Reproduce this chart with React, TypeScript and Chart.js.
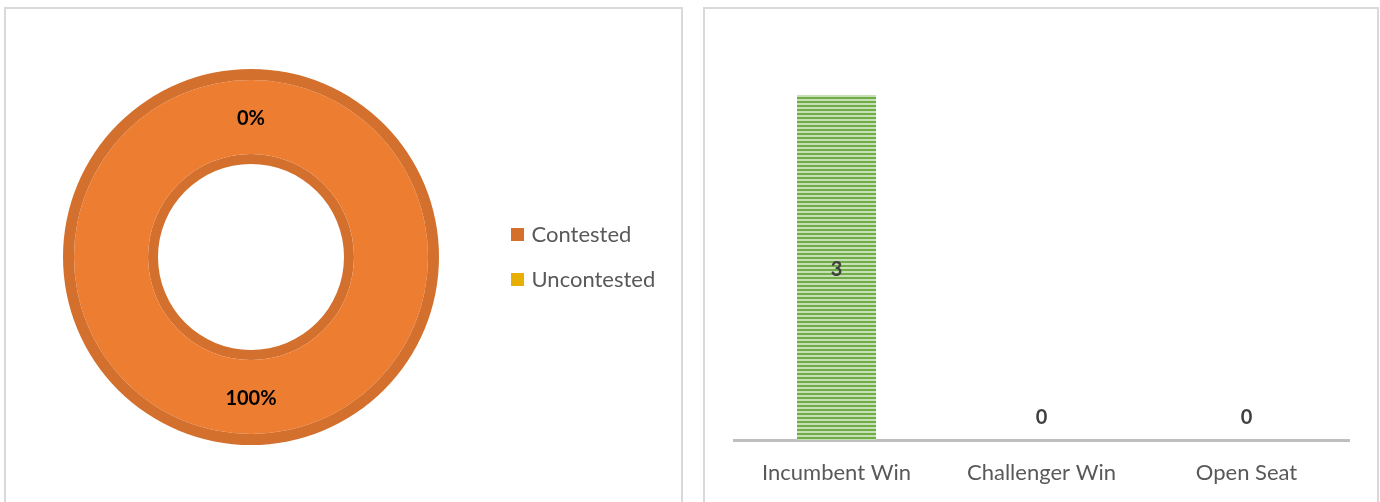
import { useEffect, useRef } from 'react';
import { Chart, registerables } from 'chart.js';

Chart.register(...registerables);

// ---- data ----
const donutLabels = ['Contested', 'Uncontested'];
const donutValues = [100, 0];

const barCategories = ['Incumbent Win', 'Challenger Win', 'Open Seat'];
const barValues = [3, 0, 0];
const barAxisMax = 3.5;

// ---- styles ----
const FONT = 'Lato, "Open Sans", sans-serif';
const TEXT_SIZE = 22;
const donutFill = ['#ED7D31', '#FFC000'];
const donutEdge = ['#D4702D', '#E3AB00'];
const legendColors = ['#D46F2C', '#E7AF00'];

const donutLabelPlugin = {
  id: 'donutLabels',
  afterDatasetsDraw(chart: any) {
    const meta = chart.getDatasetMeta(1);
    const ds = chart.data.datasets[1].data as number[];
    const total = ds.reduce((a, b) => a + b, 0);
    const ctx = chart.ctx;
    ctx.save();
    ctx.font = `bold 20px ${FONT}`;
    ctx.fillStyle = '#000000';
    ctx.textAlign = 'center';
    ctx.textBaseline = 'middle';
    meta.data.forEach((arc: any, i: number) => {
      const p = arc.getProps(['x', 'y', 'startAngle', 'endAngle', 'innerRadius', 'outerRadius'], true);
      const mid = (p.startAngle + p.endAngle) / 2;
      const r = (p.innerRadius + p.outerRadius) / 2;
      const pct = Math.round((ds[i] / total) * 100);
      ctx.fillText(`${pct}%`, p.x + Math.cos(mid) * r, p.y + Math.sin(mid) * r + 2);
    });
    ctx.restore();
  },
};

const barLabelPlugin = {
  id: 'barLabels',
  afterDatasetsDraw(chart: any) {
    const meta = chart.getDatasetMeta(0);
    const vals = chart.data.datasets[0].data as number[];
    const ctx = chart.ctx;
    ctx.save();
    ctx.font = `bold 20px ${FONT}`;
    ctx.fillStyle = '#404040';
    ctx.textAlign = 'center';
    ctx.textBaseline = 'middle';
    meta.data.forEach((bar: any, i: number) => {
      const p = bar.getProps(['x', 'y', 'base'], true);
      const v = vals[i];
      const ty = v > 0 ? (p.y + p.base) / 2 + 2 : p.base - 22;
      ctx.fillText(String(v), p.x, ty);
    });
    ctx.restore();
  },
};

function DonutChart() {
  const ref = useRef<HTMLCanvasElement>(null);
  useEffect(() => {
    if (!ref.current) return;
    const W = 675;
    const boxW = 6;
    const legendPad = 23;
    const legendLeft = 485.5;
    const mctx = ref.current.getContext('2d')!;
    mctx.font = `${TEXT_SIZE}px ${FONT}`;
    const textW = Math.max(...donutLabels.map((t) => mctx.measureText(t).width));
    const legendWidth = legendPad + boxW + TEXT_SIZE / 2 + textW + 10;
    const padRight = W - legendLeft - legendWidth;

    const chart = new Chart(ref.current, {
      type: 'doughnut',
      data: {
        labels: donutLabels,
        datasets: [
          { data: donutValues, backgroundColor: donutEdge, borderWidth: 0, weight: 11 } as any,
          { data: donutValues, backgroundColor: donutFill, borderWidth: 0, weight: 74 } as any,
          { data: donutValues, backgroundColor: donutEdge, borderWidth: 0, weight: 10 } as any,
        ],
      },
      options: {
        responsive: false,
        animation: false,
        devicePixelRatio: 1,
        cutout: 93,
        layout: { padding: { left: 490 - legendLeft, right: padRight, top: 60, bottom: 57 } },
        plugins: {
          legend: {
            position: 'right',
            labels: {
              boxWidth: boxW,
              boxHeight: boxW,
              padding: legendPad,
              color: '#595959',
              font: { family: FONT, size: TEXT_SIZE },
              generateLabels: () =>
                donutLabels.map((t, i) => ({
                  text: t,
                  fillStyle: legendColors[i],
                  strokeStyle: legendColors[i],
                  lineWidth: 7,
                  lineJoin: 'miter',
                  hidden: false,
                  index: i,
                  fontColor: '#595959',
                })),
            },
          },
          tooltip: { enabled: false },
        },
      } as any,
      plugins: [donutLabelPlugin],
    });
    return () => chart.destroy();
  }, []);
  return (
    <canvas
      ref={ref}
      width={675}
      height={493}
      style={{ position: 'absolute', left: 6, top: 9, width: 675, height: 493 }}
    />
  );
}

function BarChart() {
  const ref = useRef<HTMLCanvasElement>(null);
  useEffect(() => {
    if (!ref.current) return;
    const pc = document.createElement('canvas');
    pc.width = 4;
    pc.height = 4;
    const pctx = pc.getContext('2d')!;
    pctx.fillStyle = '#C5E0B4';
    pctx.fillRect(0, 0, 4, 4);
    pctx.fillStyle = '#70AD47';
    pctx.fillRect(0, 0, 4, 2);
    const pattern = ref.current.getContext('2d')!.createPattern(pc, 'repeat');

    const chart = new Chart(ref.current, {
      type: 'bar',
      data: {
        labels: barCategories,
        datasets: [
          {
            data: barValues,
            backgroundColor: pattern as any,
            borderWidth: 0,
            barPercentage: 0.385,
            categoryPercentage: 1,
          },
        ],
      },
      options: {
        responsive: false,
        animation: false,
        devicePixelRatio: 1,
        layout: { padding: { left: 29, right: 28, top: 28.5, bottom: 0 } },
        scales: {
          x: {
            grid: { display: false, drawTicks: false },
            border: { display: true, color: '#BFBFBF', width: 3 },
            ticks: {
              color: '#595959',
              font: { family: FONT, size: TEXT_SIZE },
              padding: 20,
              maxRotation: 0,
              autoSkip: false,
            },
            afterFit: (s: any) => {
              s.height = 62;
            },
          },
          y: { display: false, min: 0, max: barAxisMax },
        },
        plugins: { legend: { display: false }, tooltip: { enabled: false } },
      } as any,
      plugins: [barLabelPlugin],
    });
    return () => chart.destroy();
  }, []);
  return (
    <canvas
      ref={ref}
      width={672}
      height={493}
      style={{ position: 'absolute', left: 705, top: 9, width: 672, height: 493 }}
    />
  );
}

export default function App() {
  const panel = (left: number, width: number) => ({
    position: 'absolute' as const,
    left,
    top: 7,
    width,
    height: 600,
    border: '2px solid #D9D9D9',
    boxSizing: 'border-box' as const,
  });
  return (
    <div
      style={{
        position: 'fixed',
        left: 0,
        top: 0,
        width: 1380,
        height: 502,
        overflow: 'hidden',
        background: '#FFFFFF',
      }}
    >
      <div style={panel(4, 679)} />
      <div style={panel(703, 676)} />
      <DonutChart />
      <BarChart />
    </div>
  );
}
